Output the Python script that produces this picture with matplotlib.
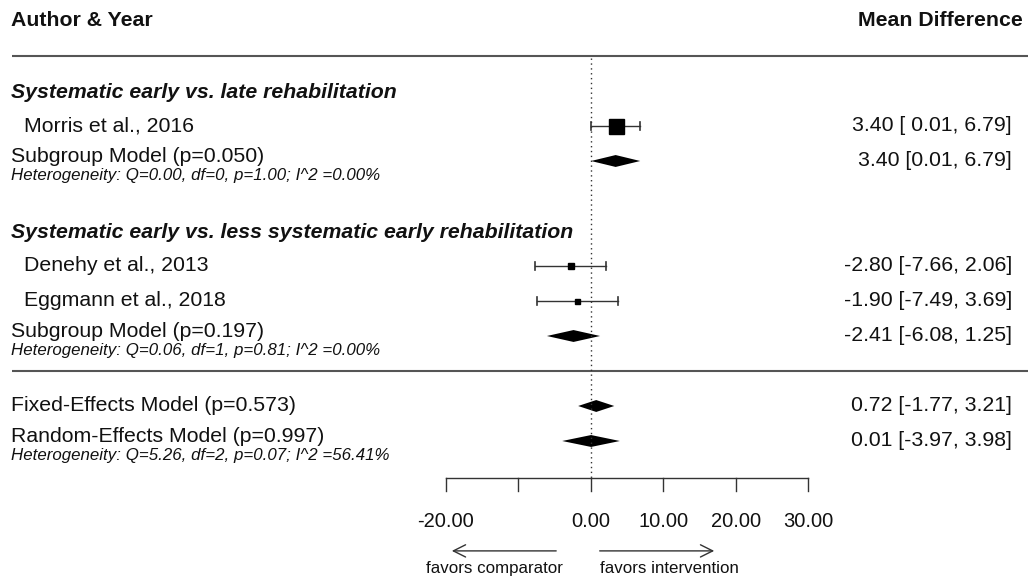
import matplotlib
matplotlib.use("Agg")
import matplotlib.pyplot as plt

plt.rcParams['font.family'] = ['Liberation Sans', 'DejaVu Sans']

# studies
study_names = ['Morris et al., 2016', 'Denehy et al., 2013', 'Eggmann et al., 2018']
study_rows = [10, 6, 5]
study_est = [3.40, -2.80, -1.90]
study_lo = [0.01, -7.66, -7.49]
study_hi = [6.79, 2.06, 3.69]
study_box = [10.8, 4.8, 3.6]   # marker size in pt (weights)

# pooled models
model_names = ['Subgroup Model (p=0.050)', 'Subgroup Model (p=0.197)',
               'Fixed-Effects Model (p=0.573)', 'Random-Effects Model (p=0.997)']
model_rows = [9, 4, 2, 1]
model_est = [3.40, -2.41, 0.72, 0.01]
model_lo = [0.01, -6.08, -1.77, -3.97]
model_hi = [6.79, 1.25, 3.21, 3.98]
model_het = ['Heterogeneity: Q=0.00, df=0, p=1.00; I^2 =0.00%',
             'Heterogeneity: Q=0.06, df=1, p=0.81; I^2 =0.00%',
             None,
             'Heterogeneity: Q=5.26, df=2, p=0.07; I^2 =56.41%']
model_ci_text = ['3.40 [0.01, 6.79]', '-2.41 [-6.08, 1.25]',
                 '0.72 [-1.77, 3.21]', '0.01 [-3.97, 3.98]']
study_ci_text = ['3.40 [ 0.01, 6.79]', '-2.80 [-7.66, 2.06]', '-1.90 [-7.49, 3.69]']

group_titles = ['Systematic early vs. late rehabilitation',
                'Systematic early vs. less systematic early rehabilitation']
group_rows = [11, 7]

ticks = [-20, -10, 0, 10, 20, 30]
tick_labels = ['-20.00', '', '0.00', '10.00', '20.00', '30.00']

fig = plt.figure(figsize=(10.28, 5.79), dpi=100)
ax = fig.add_axes([0, 0, 1, 1])
ax.set_xlim(-81.52, 60.28)
ax.set_ylim(-2.943, 13.6)
ax.axis('off')
tr = ax.get_yaxis_transform()  # x in axes fraction, y in rows

FS = 15.3
SM = 12.2
TXT = '#111111'

# header
ax.text(0.0107, 13, 'Author & Year', transform=tr, fontsize=FS, fontweight='bold',
        va='center', ha='left', color=TXT)
ax.text(0.995, 13, 'Mean Difference', transform=tr, fontsize=FS, fontweight='bold',
        va='center', ha='right', color=TXT)
for r in [12, 3]:
    ax.plot([0.0117, 1], [r, r], transform=tr, color='#555555', lw=1.5,
            solid_capstyle='butt')

# zero line
ax.plot([0, 0], [11.94, -0.06], color='#333333', lw=1.0, linestyle=(0, (1, 2.5)))

for title, r in zip(group_titles, group_rows):
    ax.text(0.0107, r - 0.05, title, transform=tr, fontsize=FS, fontweight='bold',
            style='italic', va='center', ha='left', color=TXT)

for name, r, est, lo, hi, box, ci in zip(study_names, study_rows, study_est,
                                          study_lo, study_hi, study_box, study_ci_text):
    ax.text(0.0233, r, name, transform=tr, fontsize=FS, va='center', ha='left', color=TXT)
    ax.text(0.9844, r, ci, transform=tr, fontsize=FS, va='center', ha='right', color=TXT)
    ax.plot([lo, hi], [r, r], color='#333333', lw=1.0)
    for x in (lo, hi):
        ax.plot([x, x], [r - 0.11, r + 0.11], color='#333333', lw=1.2)
    ax.plot([est], [r], marker='s', markersize=box, color='black', linestyle='none')

for name, r, est, lo, hi, het, ci in zip(model_names, model_rows, model_est,
                                          model_lo, model_hi, model_het, model_ci_text):
    dy = 0.13 if het else 0.0
    ax.text(0.0107, r + dy, name, transform=tr, fontsize=FS, va='center', ha='left', color=TXT)
    if het:
        ax.text(0.0107, r - 0.42, het, transform=tr, fontsize=SM, style='italic',
                va='center', ha='left', color=TXT)
    ax.text(0.9844, r, ci, transform=tr, fontsize=FS, va='center', ha='right', color=TXT)
    ax.fill([lo, est, hi, est], [r, r + 0.17, r, r - 0.17], color='black', lw=0)

# x axis
ay = -0.057
ax.plot([ticks[0], ticks[-1]], [ay, ay], color='#333333', lw=1.0)
for t, lab in zip(ticks, tick_labels):
    ax.plot([t, t], [ay, ay - 0.37], color='#333333', lw=1.0)
    ax.text(t, -1.29, lab, fontsize=14.5, ha='center', va='center', color=TXT)

# direction arrows
ax.annotate('', xy=(-19.2, -2.14), xytext=(-4.8, -2.14),
            arrowprops=dict(arrowstyle='->', color='#333333', lw=1.0,
                            mutation_scale=22, shrinkA=0, shrinkB=0))
ax.annotate('', xy=(17.0, -2.14), xytext=(1.2, -2.14),
            arrowprops=dict(arrowstyle='->', color='#333333', lw=1.0,
                            mutation_scale=22, shrinkA=0, shrinkB=0))
ax.text(-3.86, -2.63, 'favors comparator', fontsize=SM, ha='right', va='center', color=TXT)
ax.text(1.24, -2.63, 'favors intervention', fontsize=SM, ha='left', va='center', color=TXT)

fig.savefig('out.png', dpi=100)
